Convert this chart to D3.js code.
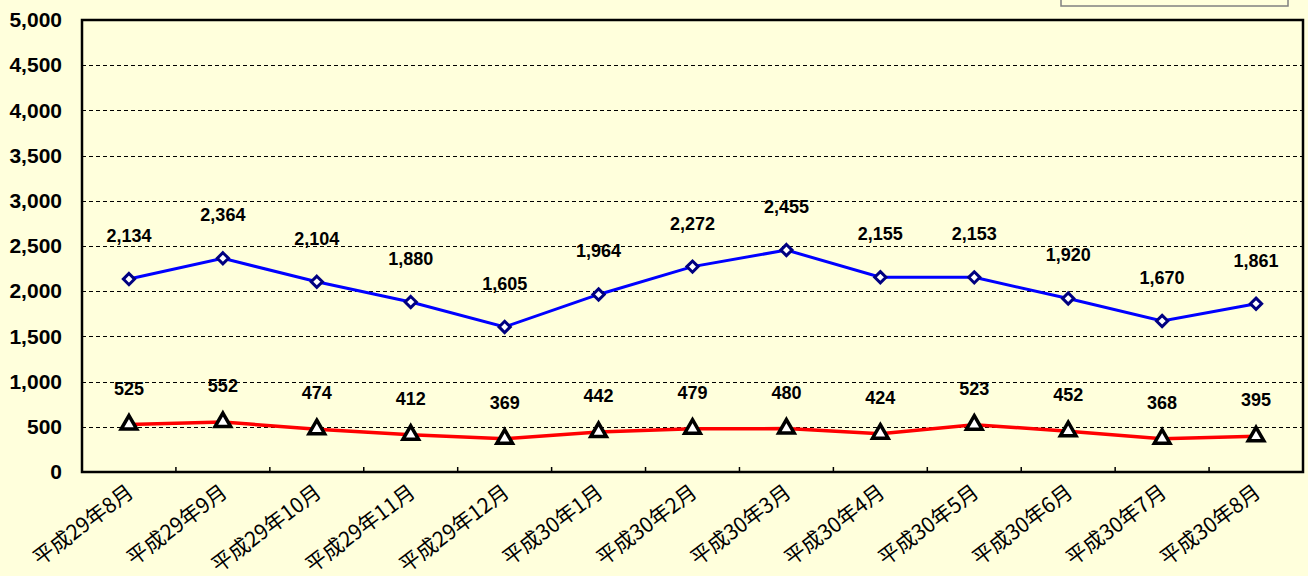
<!DOCTYPE html>
<html><head><meta charset="utf-8">
<script src="https://cdn.jsdelivr.net/npm/d3@7"></script>
<style>body{margin:0;background:#FFFFDC;}svg{display:block;}</style>
</head><body><svg id="c" width="1308" height="576"></svg>
<script>
const categories = ["平成29年8月","平成29年9月","平成29年10月","平成29年11月","平成29年12月","平成30年1月","平成30年2月","平成30年3月","平成30年4月","平成30年5月","平成30年6月","平成30年7月","平成30年8月"];
const seriesBlue = [2134,2364,2104,1880,1605,1964,2272,2455,2155,2153,1920,1670,1861];
const seriesRed = [525,552,474,412,369,442,479,480,424,523,452,368,395];
const yTicks = [0,500,1000,1500,2000,2500,3000,3500,4000,4500,5000];

const svg = d3.select("#c");
const L=82, R=1303, T=20, B=472;
svg.append("rect").attr("width",1308).attr("height",576).attr("fill","#FFFFDC");
const x = d3.scaleBand().domain(categories).range([L,R]);
const y = d3.scaleLinear().domain([0,5000]).range([B,T]);
const fmt = d3.format(",");

// legend box (partially visible)
svg.append("rect").attr("x",1061).attr("y",-10).attr("width",227).attr("height",16)
  .attr("fill","#FFFFDC").attr("stroke","#808080").attr("stroke-width",1.5);

// gridlines
svg.append("g").selectAll("line").data(yTicks.filter(d=>d>0&&d<5000)).join("line")
  .attr("x1",L).attr("x2",R).attr("y1",d=>Math.round(y(d))+0.5).attr("y2",d=>Math.round(y(d))+0.5)
  .attr("stroke","#000").attr("stroke-width",1).attr("stroke-dasharray","4,3");

// y axis labels
const ya = svg.append("g").attr("transform",`translate(${L},0)`)
  .call(d3.axisLeft(y).tickValues(yTicks).tickFormat(fmt).tickSize(0).tickPadding(20));
ya.select(".domain").remove();
ya.selectAll("text").attr("font-family","Liberation Sans, Arial, sans-serif").attr("font-weight","bold")
  .attr("font-size",21).attr("fill","#000");

// x axis ticks at band boundaries
svg.append("g").selectAll("line").data(categories.slice(1)).join("line")
  .attr("x1",d=>x(d)).attr("x2",d=>x(d)).attr("y1",B).attr("y2",B-5)
  .attr("stroke","#000").attr("stroke-width",1.5);

// x labels
svg.append("g").selectAll("text").data(categories).join("text")
  .attr("transform",d=>`translate(${x(d)+x.bandwidth()/2+6},${B+23}) rotate(-37)`)
  .attr("text-anchor","end")
  .attr("font-family","Noto Sans CJK JP, sans-serif").attr("font-size",21).attr("fill","#000")
  .text(d=>d);

// frame
svg.append("rect").attr("x",L).attr("y",T).attr("width",R-L).attr("height",B-T)
  .attr("fill","none").attr("stroke","#000").attr("stroke-width",2.5);

const cx = d=>x(d)+x.bandwidth()/2;
const line = d3.line().x((d,i)=>cx(categories[i])).y(d=>y(d));

svg.append("path").datum(seriesBlue).attr("d",line).attr("fill","none").attr("stroke","#0000FF").attr("stroke-width",3);
svg.append("path").datum(seriesRed).attr("d",line).attr("fill","none").attr("stroke","#FF0000").attr("stroke-width",3.5);

svg.append("g").selectAll("path").data(seriesBlue).join("path")
  .attr("d",d3.symbol().type(d3.symbolDiamond2).size(80))
  .attr("transform",(d,i)=>`translate(${cx(categories[i])},${y(d)})`)
  .attr("fill","#fff").attr("stroke","#000080").attr("stroke-width",3);
svg.append("g").selectAll("path").data(seriesRed).join("path")
  .attr("d",d3.symbol().type(d3.symbolTriangle).size(105))
  .attr("transform",(d,i)=>`translate(${cx(categories[i])},${y(d)})`)
  .attr("fill","#fff").attr("stroke","#000").attr("stroke-width",3.5).attr("stroke-linejoin","miter");

const lblFont = "Liberation Sans, Arial, sans-serif";
svg.append("g").selectAll("text").data(seriesBlue).join("text")
  .attr("x",(d,i)=>cx(categories[i])).attr("y",d=>y(d)-37)
  .attr("text-anchor","middle").attr("font-family",lblFont).attr("font-weight","bold").attr("font-size",18)
  .text(d=>fmt(d));
svg.append("g").selectAll("text").data(seriesRed).join("text")
  .attr("x",(d,i)=>cx(categories[i])).attr("y",d=>y(d)-30)
  .attr("text-anchor","middle").attr("font-family",lblFont).attr("font-weight","bold").attr("font-size",18)
  .text(d=>fmt(d));
</script></body></html>
